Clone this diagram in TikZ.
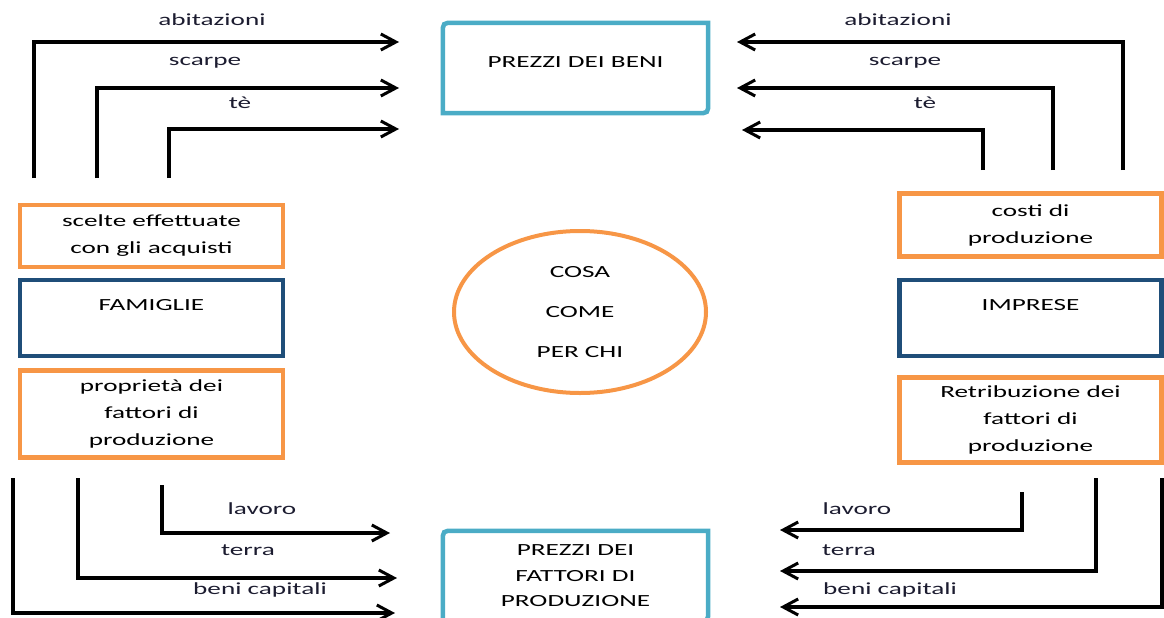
\documentclass[tikz,border=0pt]{standalone}
\usepackage{fontspec}
\setmainfont{Carlito}[FakeStretch=1.6]
\usetikzlibrary{arrows.meta,shapes.geometric}
\definecolor{orng}{HTML}{F79646}
\definecolor{cyn}{HTML}{4BACC6}
\definecolor{dblue}{HTML}{1F4E79}
\definecolor{lblc}{HTML}{1C1C30}
\begin{document}
\begin{tikzpicture}[x=1pt,y=-1pt,
  lbl/.style={font=\fontsize{17}{20}\selectfont, text=lblc, inner sep=0pt},
  flow/.style={line width=3.5pt, -{Straight Barb[length=15pt,width=16pt,line width=3pt]}},
  obox/.style={draw=orng, line width=4.5pt, align=center, inner sep=0pt, font=\fontsize{17}{27}\selectfont},
  bbox/.style={draw=dblue, line width=4.5pt, align=center, inner sep=0pt, font=\fontsize{17}{27}\selectfont},
  pbox/.style={align=center, inner sep=0pt},
  snip/.style={draw=cyn, line width=4.5pt}
  ]
\useasboundingbox (0,0) rectangle (1164,618);
\clip (0,0) rectangle (1164,618);

% price boxes
\node[pbox, minimum width=265pt, minimum height=90pt, font=\fontsize{17}{11}\selectfont] (pb) at (575.5,68) {PREZZI DEI BENI\\\mbox{}};
\draw[snip] ([yshift=-11pt]pb.north west) .. controls (pb.north west) .. ([xshift=11pt]pb.north west)
  -- (pb.north east) -- ([yshift=11pt]pb.south east) .. controls (pb.south east) .. ([xshift=-11pt]pb.south east)
  -- (pb.south west) -- cycle;

\node[pbox, minimum width=265pt, minimum height=90pt, font=\fontsize{17}{25.5}\selectfont] (pf) at (575.5,576) {PREZZI DEI\\FATTORI DI\\PRODUZIONE};
\draw[snip] ([yshift=-11pt]pf.north west) .. controls (pf.north west) .. ([xshift=11pt]pf.north west)
  -- (pf.north east) -- ([yshift=11pt]pf.south east) .. controls (pf.south east) .. ([xshift=-11pt]pf.south east)
  -- (pf.south west) -- cycle;

% left column
\node[obox, minimum width=263pt, minimum height=62pt] (scelte) at (151.5,236) {scelte effettuate\\con gli acquisti};
\node[bbox, minimum width=263pt, minimum height=76pt] (fam) at (151.5,318) {FAMIGLIE\\\mbox{}};
\node[obox, minimum width=263pt, minimum height=87pt] (prop) at (151.5,414) {proprietà dei\\fattori di\\produzione};

% right column
\node[obox, minimum width=262pt, minimum height=63pt] (costi) at (1030.5,225) {costi di\\produzione};
\node[bbox, minimum width=262pt, minimum height=76pt] (imp) at (1030.5,318) {IMPRESE\\\mbox{}};
\node[obox, minimum width=262pt, minimum height=85pt] (retr) at (1030.5,420) {Retribuzione dei\\fattori di\\produzione};

% centre ellipse
\node[ellipse, draw=orng, line width=4pt, minimum width=252pt, minimum height=162pt, align=center, inner sep=0pt, font=\fontsize{17}{40}\selectfont] (cc) at (580,312) {COSA\\COME\\PER CHI};

% top-left flows
\coordinate (tl1s) at (34,178); \coordinate (tl1e) at (399,42);
\coordinate (tl2s) at (97,178); \coordinate (tl2e) at (399,88);
\coordinate (tl3s) at (169,178); \coordinate (tl3e) at (399,129);
\draw[flow] (tl1s) |- (tl1e);
\draw[flow] (tl2s) |- (tl2e);
\draw[flow] (tl3s) |- (tl3e);
\node[lbl] (ltab) at (212,20) {abitazioni};
\node[lbl] (ltsc) at (205,63) {scarpe};
\node[lbl] (ltte) at (240,103) {tè};

% top-right flows
\coordinate (tr1s) at (1123,170); \coordinate (tr1e) at (737,42);
\coordinate (tr2s) at (1053,170); \coordinate (tr2e) at (737,88);
\coordinate (tr3s) at (983,170); \coordinate (tr3e) at (742,130);
\draw[flow] (tr1s) |- (tr1e);
\draw[flow] (tr2s) |- (tr2e);
\draw[flow] (tr3s) |- (tr3e);
\node[lbl] (rtab) at (898,20) {abitazioni};
\node[lbl] (rtsc) at (905,63) {scarpe};
\node[lbl] (rtte) at (925,103) {tè};

% bottom-left flows
\coordinate (bl1s) at (162,485); \coordinate (bl1e) at (390,533);
\coordinate (bl2s) at (78,478); \coordinate (bl2e) at (397,578);
\coordinate (bl3s) at (13,478); \coordinate (bl3e) at (395,613);
\draw[flow] (bl1s) |- (bl1e);
\draw[flow] (bl2s) |- (bl2e);
\draw[flow] (bl3s) |- (bl3e);
\node[lbl] (lbla) at (262,509) {lavoro};
\node[lbl] (lbte) at (248,550) {terra};
\node[lbl] (lbbc) at (260,590) {beni capitali};

% bottom-right flows
\coordinate (br1s) at (1022,492); \coordinate (br1e) at (780,530);
\coordinate (br2s) at (1096,478); \coordinate (br2e) at (780,571);
\coordinate (br3s) at (1162,478); \coordinate (br3e) at (780,607);
\draw[flow] (br1s) |- (br1e);
\draw[flow] (br2s) |- (br2e);
\draw[flow] (br3s) |- (br3e);
\node[lbl] (rbla) at (857,509) {lavoro};
\node[lbl] (rbte) at (849,550) {terra};
\node[lbl] (rbbc) at (890,590) {beni capitali};
\end{tikzpicture}
\end{document}
